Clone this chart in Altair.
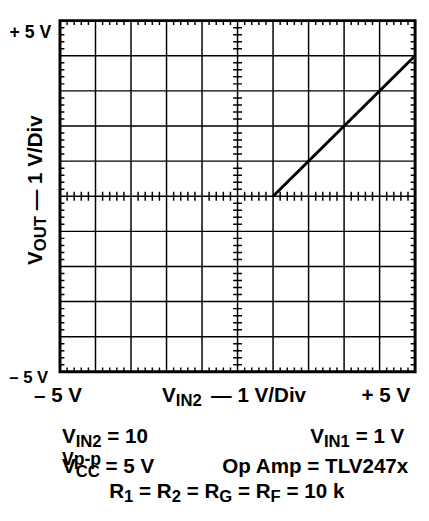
import altair as alt
import pandas as pd

# ---- data ----
vin2 = [1.0, 5.0]          # V_IN2 (x, volts)
vout = [0.0, 4.0]          # V_OUT (y, volts)
major = [-4, -3, -2, -1, 0, 1, 2, 3, 4]           # graticule lines (1 V/Div)
minor = [v / 10 for v in range(-50, 51, 2) if v % 10 != 0]  # 0.2 V sub-division marks
tick_axes = [-5, 0, 5]     # lines carrying the sub-division marks

FONT = "Liberation Sans"
W, H = 362, 358
OX, OY = 61, 16   # page position of plot origin

AW = {'V': 667, 'I': 278, 'N': 722, '2': 556, '1': 556, '0': 556, ' ': 278, '=': 584,
      '—': 1000, '/': 278, 'D': 722, 'i': 278, 'v': 556, 'C': 722, 'O': 778, 'U': 722,
      'T': 611, 'p': 611, 'A': 722, 'm': 889, 'L': 611, '4': 556, '7': 556, 'x': 556,
      'R': 722, 'G': 778, 'F': 611, 'k': 556, '5': 556, '+': 584, '–': 556, '-': 333,
      '\u2002': 500}


def tw(s, size):
    return sum(AW.get(c, 556) for c in s) * size / 1000


one = pd.DataFrame({'a': [0]})


def txt(text, X, Y, size, align='left', angle=0):
    return alt.Chart(one).mark_text(
        text=text, font=FONT, fontWeight='bold', fontSize=size, align=align,
        baseline='alphabetic', angle=angle, color='black'
    ).encode(x=alt.value(X - OX), y=alt.value(Y - OY))


def rich(segs, X, Y, main=21, sub=17, shift=4, align='left', rotate=False):
    total = sum(tw(t, sub if s else main) for t, s in segs)
    if align == 'right':
        X = X - total
    elif align == 'center':
        X = X - total / 2
    pos = 0
    out = []
    for t, s in segs:
        size = sub if s else main
        lead = len(t) - len(t.lstrip(' '))
        start = pos + tw(' ' * lead, size)
        if rotate:
            out.append(txt(t.strip(' '), X + (shift if s else 0), Y - start, size, 'left', 270))
        else:
            out.append(txt(t.strip(' '), X + start, Y + (shift if s else 0), size, 'left'))
        pos += tw(t, size)
    return out


xs = alt.Scale(domain=[-5, 5], nice=False, zero=False)
ys = alt.Scale(domain=[-5, 5], nice=False, zero=False)

gx = alt.Chart(pd.DataFrame({'x': major})).mark_rule(color='black', strokeWidth=1.5).encode(
    x=alt.X('x:Q', scale=xs, axis=None))
gy = alt.Chart(pd.DataFrame({'y': major})).mark_rule(color='black', strokeWidth=1.5).encode(
    y=alt.Y('y:Q', scale=ys, axis=None))

vt = pd.DataFrame([(m, l) for l in tick_axes for m in minor], columns=['x', 'y'])
ht = pd.DataFrame([(l, m) for l in tick_axes for m in minor], columns=['x', 'y'])
vticks = alt.Chart(vt).mark_tick(orient='vertical', size=9, thickness=1.5, color='black',
                                 opacity=1, clip=True).encode(
    x=alt.X('x:Q', scale=xs, axis=None), y=alt.Y('y:Q', scale=ys, axis=None))
hticks = alt.Chart(ht).mark_tick(orient='horizontal', size=9, thickness=1.5, color='black',
                                 opacity=1, clip=True).encode(
    x=alt.X('x:Q', scale=xs, axis=None), y=alt.Y('y:Q', scale=ys, axis=None))

trace = alt.Chart(pd.DataFrame({'vin2': vin2, 'vout': vout})).mark_line(
    color='black', strokeWidth=3).encode(
    x=alt.X('vin2:Q', scale=xs, axis=None), y=alt.Y('vout:Q', scale=ys, axis=None))

texts = []
texts.append(txt('+ 5 V', 52, 34, 18, 'right'))
texts.append(txt('– 5 V', 49, 385, 17, 'right'))
texts.append(txt('– 5 V', 59, 405, 21, 'center'))
texts.append(txt('+ 5 V', 418, 405, 21, 'right'))
texts += rich([('V', False), ('IN2', True)], 165, 405)
texts.append(txt('— 1 V/Div', 215, 405, 21))
texts += rich([('V', False), ('OUT', True), (' — 1 V/Div', False)], 43, 265, rotate=True)
texts += rich([('V', False), ('IN2', True), (' = 10', False)], 63, 447)
texts += rich([('V', False), ('IN1', True), (' = 1 V', False)], 412, 447, align='right')
texts += rich([('V', False), ('CC', True), (' = 5 V', False)], 63, 477)
texts.append(txt('Vp-p', 63, 469, 18))
texts.append(txt('Op Amp = TLV247x', 416, 477, 21, 'right'))
texts += rich([('R', False), ('1', True), (' = R', False), ('2', True), (' = R', False),
               ('G', True), (' = R', False), ('F', True), (' = 10 k', False)],
              231, 503, align='center', shift=4)

chart = alt.layer(gx, gy, vticks, hticks, trace, *texts).properties(
    width=W, height=H,
    autosize=alt.AutoSizeParams(type='none'),
    padding={'left': 53, 'top': 8, 'right': 6, 'bottom': 139},
    background='white',
).configure_view(stroke='black', strokeWidth=3)

chart.save("out.html", embed_options={"renderer": "svg", "actions": False})
